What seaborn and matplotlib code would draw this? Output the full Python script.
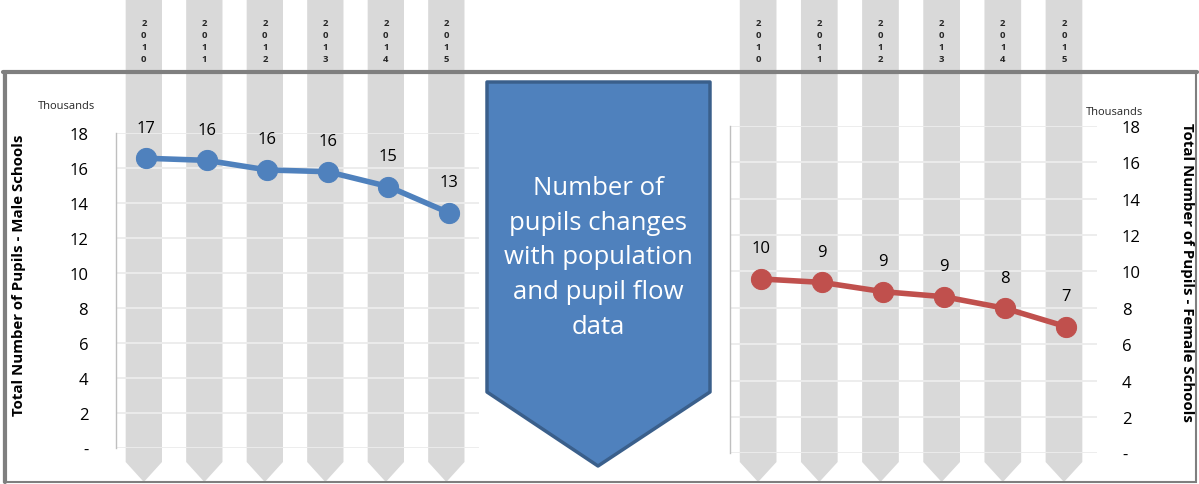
import matplotlib
matplotlib.use("Agg")
import matplotlib.pyplot as plt
import matplotlib.transforms as mtransforms
from matplotlib.patches import Polygon, Rectangle
from matplotlib.lines import Line2D
from matplotlib.ticker import FuncFormatter
import seaborn as sns


YEARS = [2010, 2011, 2012, 2013, 2014, 2015]
# pupils, in thousands
MALE_PUPILS = [16.57, 16.45, 15.9, 15.8, 14.95, 13.45]
FEMALE_PUPILS = [9.59, 9.40, 8.89, 8.61, 7.97, 6.96]
Y_TICKS = [0, 2, 4, 6, 8, 10, 12, 14, 16, 18]

LEFT_LABEL = "Total Number of Pupils - Male Schools"
RIGHT_LABEL = "Total Number of Pupils - Female Schools"
UNIT_LABEL = "Thousands"
ARROW_TEXT = "Number of\npupils changes\nwith population\nand pupil flow\ndata"

BLUE = "#4f81bd"
RED = "#c0504d"
BAND = "#d9d9d9"
FRAME = "#7f7f7f"
GRID = "#ececec"

W, H = 1199, 485


def fx(x):
    return x / W


def fy(y):
    return 1 - y / H


def thousands_fmt(v, pos):
    return "-" if v == 0 else f"{v:.0f}"


def draw_bands(fig, ax):
    # grey year columns with a chevron at the bottom, x follows the data axis
    trans = mtransforms.blended_transform_factory(ax.transData, fig.transFigure)
    hw = 0.3
    for yr in YEARS:
        c = yr - 0.04
        pts = [(c - hw, 1.0), (c + hw, 1.0), (c + hw, fy(463)), (c, fy(483)), (c - hw, fy(463))]
        ax.add_patch(Polygon(pts, closed=True, transform=trans, facecolor=BAND,
                             edgecolor="none", zorder=0, clip_on=False))
        ax.text(c, fy(41.5), "\n".join(str(yr)), transform=trans, ha="center", va="center",
                fontsize=6.8, fontweight="bold", linespacing=1.4, zorder=1)


def draw_series(fig, ax, values, color):
    draw_bands(fig, ax)
    sns.lineplot(x=YEARS, y=values, ax=ax, color=color, linewidth=4, marker="o",
                 markersize=14.5, markeredgecolor=color, zorder=3)
    for x, v in zip(YEARS, values):
        ax.annotate(f"{v:.0f}", (x, v), xytext=(0, 22), textcoords="offset points",
                    ha="center", va="center", fontsize=12, color="black")

    ax.set_xlim(2009.5, 2015.5)
    ax.set_ylim(0, 18)
    ax.set_yticks(Y_TICKS)
    ax.yaxis.set_major_formatter(FuncFormatter(thousands_fmt))
    ax.set_xticks([])
    ax.set_axisbelow(True)
    ax.grid(axis="y", color=GRID, linewidth=1.3)
    ax.grid(axis="x", visible=False)
    ax.set_facecolor("none")
    for side in ["top", "right", "bottom"]:
        ax.spines[side].set_visible(False)
    ax.spines["left"].set_color("#bfbfbf")
    ax.spines["left"].set_linewidth(1)


def main():
    sns.set_theme(style="white")
    plt.rcParams["font.family"] = ["Open Sans", "DejaVu Sans"]

    fig = plt.figure(figsize=(W / 100, H / 100), dpi=100)
    fig.patch.set_facecolor("white")

    ax_l = fig.add_axes([fx(116), fy(448.5), 363 / W, 314.2 / H])
    ax_r = fig.add_axes([fx(730), fy(454.3), 367 / W, 327.3 / H])

    draw_series(fig, ax_l, MALE_PUPILS, BLUE)
    draw_series(fig, ax_r, FEMALE_PUPILS, RED)

    ax_l.tick_params(axis="y", length=0, pad=20, labelsize=12, labelcolor="black")
    ax_l.set_ylabel(LEFT_LABEL, fontsize=10.8, fontweight="bold", color="black",
                    rotation=90, va="center")
    ax_l.yaxis.set_label_coords(-0.268, 0.552)
    ax_l.text(-0.135, 1.087, UNIT_LABEL, transform=ax_l.transAxes, ha="center",
              va="center", fontsize=8)

    ax_r.yaxis.tick_right()
    ax_r.yaxis.set_label_position("right")
    ax_r.tick_params(axis="y", length=0, pad=18, labelsize=12, labelcolor="black")
    ax_r.set_ylabel(RIGHT_LABEL, fontsize=10.8, fontweight="bold", color="black",
                    rotation=270, va="center")
    ax_r.yaxis.set_label_coords(1.245, 0.554)
    ax_r.text(1.049, 1.043, UNIT_LABEL, transform=ax_r.transAxes, ha="center",
              va="center", fontsize=8)

    # outer frame
    fig.add_artist(Rectangle((fx(4), fy(483)), fx(1196) - fx(4), fy(73) - fy(483),
                             transform=fig.transFigure, fill=False, edgecolor=FRAME,
                             linewidth=1.5, zorder=5))
    fig.add_artist(Line2D([fx(3), fx(1197)], [fy(73), fy(73)], transform=fig.transFigure,
                          color=FRAME, linewidth=3, zorder=5))
    fig.add_artist(Line2D([fx(4.5), fx(4.5)], [fy(73), fy(483)], transform=fig.transFigure,
                          color=FRAME, linewidth=3, zorder=5))

    # down arrow callout in the middle
    arrow = [(fx(487), fy(83)), (fx(710), fy(83)), (fx(710), fy(393)),
             (fx(598), fy(467)), (fx(487), fy(393))]
    fig.add_artist(Polygon(arrow, closed=True, transform=fig.transFigure, facecolor=BLUE,
                           edgecolor="#3a5f8b", linewidth=2.5, joinstyle="round", zorder=6))
    fig.text(fx(598), fy(258), ARROW_TEXT, ha="center", va="center", color="white",
             fontsize=18.5, linespacing=1.52, multialignment="center", zorder=7)

    fig.savefig("out.png", dpi=100)
    plt.close(fig)


if __name__ == "__main__":
    main()
